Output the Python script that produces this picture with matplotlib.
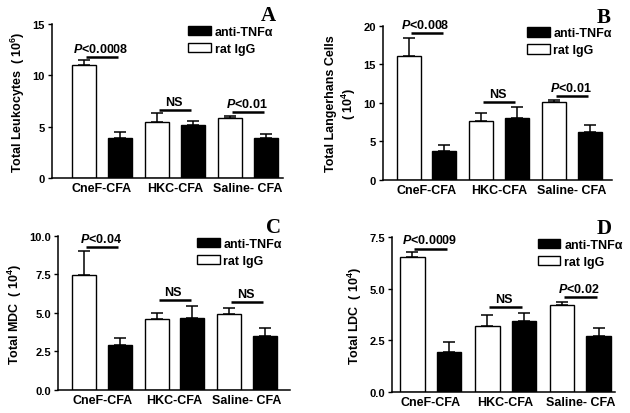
import matplotlib.pyplot as plt
from matplotlib.patches import Patch

plt.rcParams['font.family'] = ['Liberation Sans', 'DejaVu Sans']
plt.rcParams['font.weight'] = 'bold'
plt.rcParams['mathtext.fontset'] = 'custom'
plt.rcParams['mathtext.rm'] = 'Liberation Sans:bold'
plt.rcParams['mathtext.it'] = 'Liberation Sans:italic:bold'
plt.rcParams['mathtext.bf'] = 'Liberation Sans:bold'

groups = ["CneF-CFA", "HKC-CFA", "Saline- CFA"]

# panel A - total leukocytes
a_igg = [11.0, 5.5, 5.8]
a_igg_err = [0.5, 0.8, 0.25]
a_tnf = [3.85, 5.2, 3.85]
a_tnf_err = [0.6, 0.4, 0.4]
a_sig = ["$P$<0.0008", "NS", "$P$<0.01"]
a_sig_y = [11.75, 6.6, 6.4]

# panel B - Langerhans cells
b_igg = [16.0, 7.7, 10.1]
b_igg_err = [2.4, 1.0, 0.3]
b_tnf = [3.8, 8.0, 6.2]
b_tnf_err = [0.7, 1.4, 0.9]
b_sig = ["$P$<0.008", "NS", "$P$<0.01"]
b_sig_y = [19.0, 10.1, 10.9]

# panel C - MDC
c_igg = [7.45, 4.62, 4.95]
c_igg_err = [1.55, 0.4, 0.4]
c_tnf = [2.9, 4.7, 3.5]
c_tnf_err = [0.45, 0.75, 0.5]
c_sig = ["$P$<0.04", "NS", "NS"]
c_sig_y = [9.3, 5.84, 5.73]

# panel D - LDC
d_igg = [6.53, 3.19, 4.23]
d_igg_err = [0.25, 0.52, 0.15]
d_tnf = [1.95, 3.45, 2.69]
d_tnf_err = [0.47, 0.4, 0.4]
d_sig = ["$P$<0.0009", "NS", "$P$<0.02"]
d_sig_y = [6.95, 4.13, 4.61]

fig = plt.figure(figsize=(6.3, 4.14), dpi=100)

panels = [
    ("A", [0.0825, 0.5676, 0.367, 0.372], a_igg, a_igg_err, a_tnf, a_tnf_err, a_sig, a_sig_y,
     15, [0, 5, 10, 15], ["0", "5", "10", "15"], "Total Leukocytes  ( 10$^{6}$)",
     (-0.68, 2.48), 0.59, 0.935),
    ("B", [0.608, 0.563, 0.363, 0.3727], b_igg, b_igg_err, b_tnf, b_tnf_err, b_sig, b_sig_y,
     20, [0, 5, 10, 15, 20], ["0", "5", "10", "15", "20"], "Total Langerhans Cells\n( 10$^{4}$)",
     (-0.6, 2.55), 0.63, 0.965),
    ("C", [0.092, 0.0563, 0.368, 0.371], c_igg, c_igg_err, c_tnf, c_tnf_err, c_sig, c_sig_y,
     10, [0, 2.5, 5, 7.5, 10], ["0.0", "2.5", "5.0", "7.5", "10.0"], "Total MDC  ( 10$^{4}$)",
     (-0.61, 2.59), 0.60, 0.93),
    ("D", [0.622, 0.0507, 0.354, 0.374], d_igg, d_igg_err, d_tnf, d_tnf_err, d_sig, d_sig_y,
     7.5, [0, 2.5, 5, 7.5], ["0.0", "2.5", "5.0", "7.5"], "Total LDC  ( 10$^{4}$)",
     (-0.52, 2.46), 0.655, 0.95),
]

off = 0.245
w = 0.33
for (letter, rect, igg, igg_e, tnf, tnf_e, sig, sig_y, ymax, yt, ytl, ylab,
     xl, legx, letx) in panels:
    ax = fig.add_axes(rect)
    x = range(len(groups))
    xi = [i - off for i in x]
    xt = [i + off for i in x]
    ax.bar(xi, igg, w, color='white', edgecolor='black', linewidth=1.0, zorder=2)
    ax.bar(xt, tnf, w, color='black', edgecolor='black', linewidth=1.0, zorder=2)
    ax.errorbar(xi, igg, yerr=[[0] * 3, igg_e], fmt='none', ecolor='black',
                elinewidth=1.1, capsize=4, capthick=1.1, zorder=1)
    ax.errorbar(xt, tnf, yerr=[[0] * 3, tnf_e], fmt='none', ecolor='black',
                elinewidth=1.1, capsize=4, capthick=1.1, zorder=1)
    for i in x:
        ax.plot([i - 0.22, i + 0.22], [sig_y[i], sig_y[i]], color='black', lw=1.8,
                solid_capstyle='butt', clip_on=False)
        ax.annotate(sig[i], (i, sig_y[i]), xytext=(-1, 1.5), textcoords='offset points',
                    ha='center', va='bottom', fontsize=9, fontweight='bold',
                    annotation_clip=False)
    ax.set_ylim(0, ymax)
    ax.set_xlim(*xl)
    ax.set_yticks(yt)
    ax.set_yticklabels(ytl, fontsize=8, fontweight='bold')
    ax.set_xticks(list(x))
    ax.set_xticklabels(groups, fontsize=9, fontweight='bold')
    ax.tick_params(axis='x', length=0, pad=3)
    ax.tick_params(axis='y', length=3, width=1, pad=2)
    ax.spines['top'].set_visible(False)
    ax.spines['right'].set_visible(False)
    ax.spines['left'].set_linewidth(1.1)
    ax.spines['bottom'].set_linewidth(1.1)
    ax.set_ylabel(ylab, fontsize=9, fontweight='bold', labelpad=4)
    handles = [Patch(facecolor='black', edgecolor='black', label='anti-TNF\u03b1'),
               Patch(facecolor='white', edgecolor='black', label='rat IgG')]
    ax.legend(handles=handles, loc='upper left', bbox_to_anchor=(legx, 0.99),
              frameon=False, handlelength=1.8, handleheight=0.8,
              handletextpad=0.3, labelspacing=0.4, borderpad=0, borderaxespad=0,
              prop={'weight': 'bold', 'size': 9})
    ax.text(letx, 1.025, letter, transform=ax.transAxes, ha='center', va='baseline',
            fontsize=15, fontweight='bold', family='Liberation Serif')

fig.savefig('out.png', dpi=100)
